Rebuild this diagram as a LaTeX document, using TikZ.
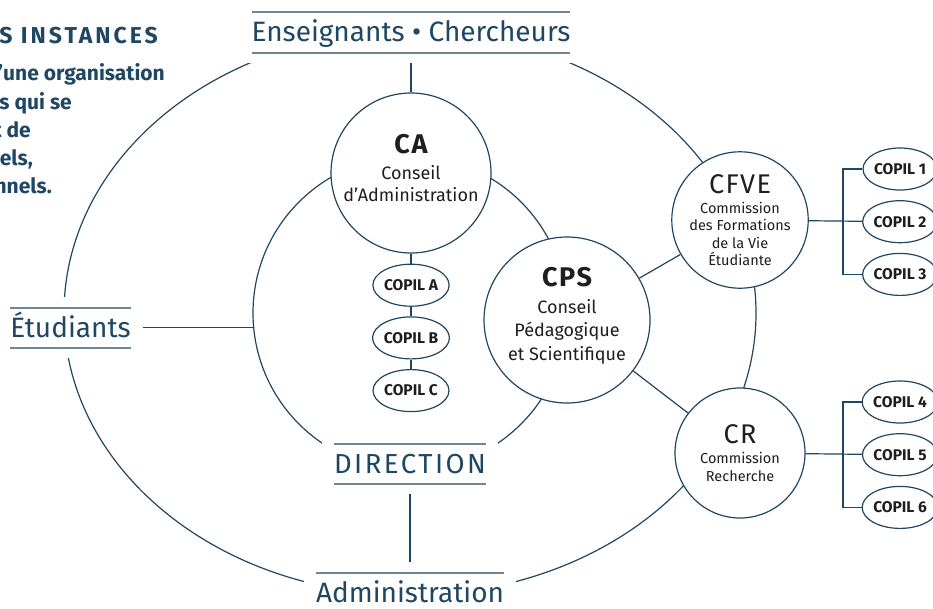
\documentclass[tikz,border=0pt]{standalone}
\usepackage{fontspec}
\setmainfont{Fira Sans}
\usetikzlibrary{shapes,positioning,calc}
\definecolor{navy}{HTML}{1F4764}
\definecolor{ink}{HTML}{1E1E1E}

\begin{document}
\begin{tikzpicture}[
    x=1pt, y=-1pt,
    node distance=9.5pt,
    inst/.style={circle,draw=navy,line width=1.2pt,fill=white,text=ink,align=center,inner sep=0pt},
    copil/.style={ellipse,draw=navy,line width=1.2pt,fill=white,text=ink,inner sep=0pt,minimum width=74pt,minimum height=42pt,font=\fontsize{15.5}{17}\selectfont\bfseries},
    band/.style={fill=white,text=navy,inner xsep=12pt,inner ysep=21pt,text height=19.5pt,text depth=0pt,font=\fontsize{28}{30}\selectfont,
        path picture={\draw[navy!65,line width=1.8pt]
            ([shift={(12pt,-11pt)}]path picture bounding box.north west) -- ([shift={(-12pt,-11pt)}]path picture bounding box.north east)
            ([shift={(12pt,10pt)}]path picture bounding box.south west) -- ([shift={(-12pt,10pt)}]path picture bounding box.south east);}},
    link/.style={draw=navy,line width=1.2pt},
    para/.style={text=navy,inner sep=0pt,anchor=base east,font=\fontsize{21}{28}\selectfont\bfseries}
    ]
    \useasboundingbox (0,0) rectangle (933,608);

    % the two rings
    \coordinate (mid) at (410,313);
    \coordinate (midW) at (253.5,327.5);
    \draw[navy,line width=1.2pt] (mid) ellipse [x radius=346pt, y radius=282pt];
    \draw[navy,line width=1.2pt] (mid) circle [radius=157pt];

    % heading, cut by the page edge
    \node[para,font=\fontsize{23}{25}\selectfont\bfseries\addfontfeatures{LetterSpace=13}] (head) at (158,43) {S INSTANCES};
    \node[para] (p1) at (165,80) {’une organisation};
    \node[para] (p2) at (72,109) {s qui se};
    \node[para] (p3) at (31,137) {t de};
    \node[para] (p4) at (33,165) {els,};
    \node[para] (p5) at (52,193) {nnels.};

    % publics
    \node[band] (ens) at (411,32) {Enseignants • Chercheurs};
    \node[band] (etu) at (70.5,327.5) {Étudiants};
    \node[band,font=\fontsize{27.5}{30}\selectfont\addfontfeatures{LetterSpace=9}] (dir) at (410,463.5) {DIRECTION};
    \node[band] (adm) at (410,593) {Administration};

    % instances
    \node[inst,minimum size=160pt,text depth=10pt,font=\fontsize{18}{22}\selectfont] (CA) at (411,173)
        {{\fontsize{27}{28}\selectfont\bfseries\addfontfeatures{LetterSpace=6}CA}\\[4pt]Conseil\\d’Administration};
    \node[inst,minimum size=166pt,text depth=12pt,font=\fontsize{18}{23.5}\selectfont] (CPS) at (567,320)
        {{\fontsize{27}{28}\selectfont\bfseries\addfontfeatures{LetterSpace=6}CPS}\\[3pt]Conseil\\Pédagogique\\et Scientifique};
    \node[inst,minimum size=130pt,font=\fontsize{14.5}{17.5}\selectfont] (CFVE) at (740,220)
        {{\fontsize{27}{28}\selectfont\addfontfeatures{LetterSpace=5}CFVE}\\[2.5pt]Commission\\des Formations\\de la Vie\\Étudiante};
    \node[inst,minimum size=130pt,font=\fontsize{14.5}{17.5}\selectfont] (CR) at (740,453)
        {{\fontsize{27}{28}\selectfont\addfontfeatures{LetterSpace=5}CR}\\[2.5pt]Commission\\Recherche};

    \node[copil,below=10pt of CA] (cA) {COPIL A};
    \node[copil,below=of cA] (cB) {COPIL B};
    \node[copil,below=of cB] (cC) {COPIL C};

    \node[copil] (c1) at (900,169) {COPIL 1};
    \node[copil,below=of c1] (c2) {COPIL 2};
    \node[copil,below=of c2] (c3) {COPIL 3};
    \node[copil] (c4) at (900,402) {COPIL 4};
    \node[copil,below=of c4] (c5) {COPIL 5};
    \node[copil,below=of c5] (c6) {COPIL 6};

    \coordinate (b1) at (843,220);
    \coordinate (b2) at (843,453.5);

    \draw[link] (ens) -- (CA);
    \draw[link] (etu) -- (midW);
    \draw[link] (dir) -- (adm);
    \draw[link] (CA) -- (cA);
    \draw[link] (cA) -- (cB);
    \draw[link] (cB) -- (cC);
    \draw[link] (CPS) -- (CFVE);
    \draw[link] (CPS) -- (CR);
    \draw[link] (CFVE) -- (c2);
    \draw[link] (c1.west) -| (b1) |- (c3.west);
    \draw[link] (CR) -- (c5);
    \draw[link] (c4.west) -| (b2) |- (c6.west);
\end{tikzpicture}
\end{document}
